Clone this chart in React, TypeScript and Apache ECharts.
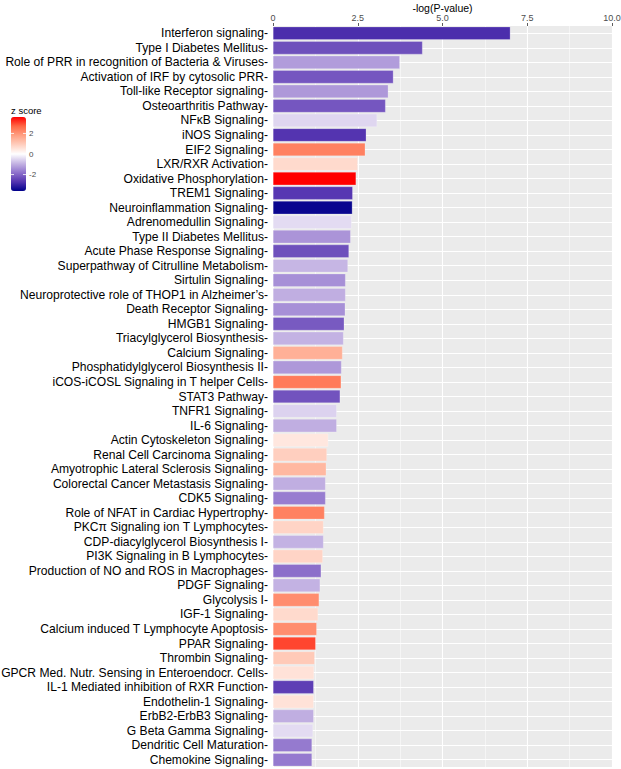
import React, { useEffect, useRef } from "react";
import * as echarts from "echarts";

const pathways = [
  "Interferon signaling",
  "Type I Diabetes Mellitus",
  "Role of PRR in recognition of Bacteria & Viruses",
  "Activation of IRF by cytosolic PRR",
  "Toll-like Receptor signaling",
  "Osteoarthritis Pathway",
  "NFκB Signaling",
  "iNOS Signaling",
  "EIF2 Signaling",
  "LXR/RXR Activation",
  "Oxidative Phosphorylation",
  "TREM1 Signaling",
  "Neuroinflammation Signaling",
  "Adrenomedullin Signaling",
  "Type II Diabetes Mellitus",
  "Acute Phase Response Signaling",
  "Superpathway of Citrulline Metabolism",
  "Sirtulin Signaling",
  "Neuroprotective role of THOP1 in Alzheimer’s",
  "Death Receptor Signaling",
  "HMGB1 Signaling",
  "Triacylglycerol Biosynthesis",
  "Calcium Signaling",
  "Phosphatidylglycerol Biosynthesis II",
  "iCOS-iCOSL Signaling in T helper Cells",
  "STAT3 Pathway",
  "TNFR1 Signaling",
  "IL-6 Signaling",
  "Actin Cytoskeleton Signaling",
  "Renal Cell Carcinoma Signaling",
  "Amyotrophic Lateral Sclerosis Signaling",
  "Colorectal Cancer Metastasis Signaling",
  "CDK5 Signaling",
  "Role of NFAT in Cardiac Hypertrophy",
  "PKCπ Signaling ion T Lymphocytes",
  "CDP-diacylglycerol Biosynthesis I",
  "PI3K Signaling in B Lymphocytes",
  "Production of NO and ROS in Macrophages",
  "PDGF Signaling",
  "Glycolysis I",
  "IGF-1 Signaling",
  "Calcium induced T Lymphocyte Apoptosis",
  "PPAR Signaling",
  "Thrombin Signaling",
  "GPCR Med. Nutr. Sensing in Enteroendocr. Cells",
  "IL-1 Mediated inhibition of RXR Function",
  "Endothelin-1 Signaling",
  "ErbB2-ErbB3 Signaling",
  "G Beta Gamma Signaling",
  "Dendritic Cell Maturation",
  "Chemokine Signaling",
];

const negLogP = [
  7.0, 4.41, 3.74, 3.55, 3.4, 3.32, 3.07, 2.75, 2.72, 2.5, 2.45, 2.35, 2.34,
  2.32, 2.29, 2.24, 2.21, 2.14, 2.14, 2.13, 2.1, 2.08, 2.05, 2.02, 2.01, 1.98,
  1.88, 1.88, 1.63, 1.59, 1.57, 1.55, 1.55, 1.52, 1.49, 1.49, 1.47, 1.42, 1.39,
  1.36, 1.33, 1.29, 1.26, 1.23, 1.21, 1.2, 1.2, 1.2, 1.18, 1.15, 1.15,
];

const zScores = [
  -2.8, -2.3, -1.25, -2.2, -1.3, -2.2, -0.5, -2.7, 2.3, 0.7, 3.6, -2.65, -3.5,
  -0.45, -1.35, -2.3, -0.9, -1.4, -1.0, -1.4, -2.15, -0.95, 1.5, -1.3, 2.4,
  -2.25, -0.55, -1.0, 0.45, 0.9, 1.35, -1.0, -1.65, 2.3, 0.8, -0.95, 0.8, -1.85,
  -0.95, 2.1, 0.7, 2.1, 3.0, 1.0, 0.55, -2.55, 0.55, -1.0, -0.45, -1.7, -1.7,
];

const xTicks = [0, 2.5, 5, 7.5, 10];
const legendTicks = [2, 0, -2];
const xTitle = "-log(P-value)";

const FONT = "'Liberation Sans', Arial, Helvetica, sans-serif";

export default function App() {
  const ref = useRef<HTMLDivElement>(null);

  useEffect(() => {
    document.body.style.margin = "0";
    if (!ref.current) return;
    const chart = echarts.init(ref.current, null, { renderer: "svg" });

    const zMin = -3.6;
    const zMax = 3.6;
    const barTop = 117;
    const barH = 74;
    const yOf = (z: number) => barTop + ((zMax - z) / (zMax - zMin)) * barH;

    const gridLeft = 273;
    const gridRight = 9;
    const plotCenterX = gridLeft + (621 - gridLeft - gridRight) / 2;

    const legendGraphics: any[] = [
      {
        type: "text",
        x: plotCenterX,
        y: 8,
        style: {
          text: xTitle,
          fontSize: 10.5,
          fill: "#000",
          fontFamily: FONT,
          align: "center",
          verticalAlign: "middle",
        },
      },
      {
        type: "text",
        left: 11,
        top: 105,
        style: { text: "z score", fontSize: 9.5, fill: "#000", fontFamily: FONT },
      },
    ];
    legendTicks.forEach((t) => {
      const y = yOf(t);
      legendGraphics.push({
        type: "text",
        x: 29,
        y: y,
        style: {
          text: String(t),
          fontSize: 8,
          fill: "#4D4D4D",
          fontFamily: FONT,
          verticalAlign: "middle",
          align: "left",
        },
      });
      legendGraphics.push({
        type: "line",
        shape: { x1: 11, y1: y, x2: 14, y2: y },
        style: { stroke: "#fff", lineWidth: 0.8 },
        z: 100,
      });
      legendGraphics.push({
        type: "line",
        shape: { x1: 23, y1: y, x2: 26, y2: y },
        style: { stroke: "#fff", lineWidth: 0.8 },
        z: 100,
      });
    });

    chart.setOption({
      animation: false,
      textStyle: { fontFamily: FONT },
      grid: {
        left: gridLeft,
        right: gridRight,
        top: 26,
        bottom: 2,
        show: true,
        backgroundColor: "#EBEBEB",
        borderWidth: 0,
        containLabel: false,
        outerBoundsMode: "none",
      },
      xAxis: {
        type: "value",
        position: "top",
        min: 0,
        max: 10,
        interval: 2.5,
        axisLine: { show: false },
        axisTick: { show: true, length: 3, lineStyle: { color: "#333", width: 0.8 } },
        axisLabel: {
          fontSize: 9,
          color: "#4D4D4D",
          margin: 4,
          formatter: (v: number) => (v === 0 ? "0" : v.toFixed(1)),
          customValues: xTicks,
        },
        splitLine: { show: true, lineStyle: { color: "#fff", width: 1.1 } },
        minorTick: { show: false, splitNumber: 2 },
        minorSplitLine: { show: true, lineStyle: { color: "#fff", width: 0.5 } },
      },
      yAxis: {
        type: "category",
        data: pathways,
        inverse: true,
        axisLine: { show: false },
        axisTick: { show: false, alignWithLabel: true },
        axisLabel: {
          interval: 0,
          fontSize: 12.1,
          color: "#000",
          margin: 5,
          formatter: (v: string) => v + "-",
        },
        splitLine: {
          show: true,
          interval: 0,
          alignWithLabel: true,
          lineStyle: { color: "#fff", width: 1.1 },
        },
      },
      visualMap: {
        type: "continuous",
        seriesIndex: 0,
        dimension: 2,
        min: zMin,
        max: zMax,
        calculable: false,
        left: 11,
        top: barTop,
        padding: 0,
        itemWidth: 15,
        itemHeight: barH,
        showLabel: false,
        text: null,
        inRange: {
          color: [
            "#00008B",
            "#5434B0",
            "#8F72CC",
            "#C6B6E4",
            "#FFFFFF",
            "#FFCFBF",
            "#FFA083",
            "#FF6846",
            "#FF0000",
          ],
        },
      },
      graphic: legendGraphics,
      series: [
        {
          type: "bar",
          data: pathways.map((p, i) => [negLogP[i], p, zScores[i]]),
          encode: { x: 0, y: 1 },
          barCategoryGap: "10%",
          itemStyle: { borderColor: "rgba(255,255,255,0.6)", borderWidth: 0.4 },
        },
      ],
    });

    return () => chart.dispose();
  }, []);

  return <div ref={ref} style={{ width: 621, height: 769 }} />;
}
